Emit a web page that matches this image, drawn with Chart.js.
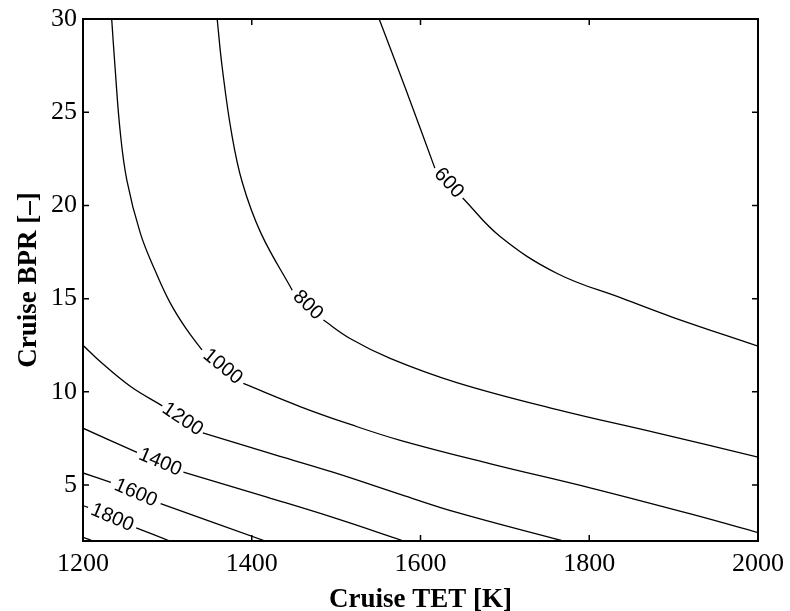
<!DOCTYPE html>
<html>
<head>
<meta charset="utf-8">
<script src="https://cdn.jsdelivr.net/npm/chart.js@4"></script>
<style>
  body { margin: 0; background: #fff; }
  canvas { display: block; }
</style>
</head>
<body>
<canvas id="myChart" width="790" height="611"></canvas>
<script>
// contour levels and their traced lines (null = gap where the level label sits)
const levels = [600, 800, 1000, 1200, 1400, 1600, 1800, 2000];

const tet600 = [1551, 1582, 1617, null, 1650, 1694, 1762, 1840, 1899, 2000];
const bpr600 = [30, 26.3, 22.0, null, 20.4, 18.35, 16.35, 15.0, 14.0, 12.45];

const tet800 = [1359, 1365, 1376, 1389, 1411, 1448, null, 1485, 1517, 1564, 1643, 1762, 1880, 2000];
const bpr800 = [30, 27.4, 23.9, 21.2, 18.5, 15.45, null, 13.85, 12.85, 11.8, 10.5, 9.05, 7.8, 6.5];

const tet1000 = [1234, 1238, 1244, 1252, 1268, 1286, 1303, 1322, 1341, null, 1390, 1458, 1517, 1576, 1682, 1801, 1920, 2000];
const bpr1000 = [30, 27.4, 24.0, 21.35, 18.5, 16.45, 14.8, 13.4, 12.25, null, 10.45, 9.2, 8.25, 7.4, 6.15, 4.85, 3.45, 2.45];

const tet1200 = [1200, 1221, 1256, 1294, null, 1342, 1418, 1497, 1576, 1643, 1769];
const bpr1200 = [12.5, 11.6, 10.3, 9.25, null, 7.8, 6.75, 5.68, 4.5, 3.53, 2];

const tet1400 = [1200, 1264, null, 1319, 1418, 1497, 1580];
const bpr1400 = [8.05, 6.75, null, 5.7, 4.35, 3.25, 2];

const tet1600 = [1200, 1233, null, 1292, 1416];
const bpr1600 = [5.65, 5.15, null, 4.0, 2];

const tet1800 = [1200, 1206, null, 1263, 1303];
const bpr1800 = [3.9, 3.8, null, 2.7, 2];

const tet2000 = [1200, 1212];
const bpr2000 = [2.2, 2];

const xTicks = [1200, 1400, 1600, 1800, 2000];
const yTicks = [5, 10, 15, 20, 25, 30];

const lines = [
  [tet600, bpr600], [tet800, bpr800], [tet1000, bpr1000], [tet1200, bpr1200],
  [tet1400, bpr1400], [tet1600, bpr1600], [tet1800, bpr1800], [tet2000, bpr2000]
];

const datasets = lines.map((l, i) => ({
  label: String(levels[i]),
  data: l[0].map((t, j) => ({ x: t, y: l[1][j] })),
  showLine: true,
  borderColor: "#000",
  borderWidth: 1.3,
  pointRadius: 0,
  tension: 0.4,
  spanGaps: false
}));

// level text written along the line, in the gap left for it
const contourLabels = {
  id: "contourLabels",
  afterDatasetsDraw(chart) {
    const ctx = chart.ctx;
    chart.data.datasets.forEach((ds, i) => {
      const g = ds.data.findIndex(p => p.y === null);
      if (g < 1) return;
      const pts = chart.getDatasetMeta(i).data;
      const a = pts[g - 1], b = pts[g + 1];
      const ang = Math.atan2(b.y - a.y, b.x - a.x);
      ctx.save();
      ctx.translate((a.x + b.x) / 2, (a.y + b.y) / 2);
      ctx.rotate(ang);
      ctx.font = '20px "Liberation Sans"';
      ctx.textAlign = "center";
      ctx.textBaseline = "middle";
      ctx.fillStyle = "#000";
      ctx.fillText(ds.label, 0, 0);
      ctx.restore();
    });
  }
};

// box around the plot with inward ticks on all four sides
const frame = {
  id: "frame",
  afterDraw(chart) {
    const { ctx, chartArea, scales } = chart;
    const { left, right, top, bottom } = chartArea;
    const tl = 6;
    ctx.save();
    ctx.strokeStyle = "#000";
    ctx.lineWidth = 1.5;
    ctx.beginPath();
    scales.x.ticks.forEach(t => {
      const px = scales.x.getPixelForValue(t.value);
      ctx.moveTo(px, bottom); ctx.lineTo(px, bottom - tl);
      ctx.moveTo(px, top); ctx.lineTo(px, top + tl);
    });
    scales.y.ticks.forEach(t => {
      const py = scales.y.getPixelForValue(t.value);
      ctx.moveTo(left, py); ctx.lineTo(left + tl, py);
      ctx.moveTo(right, py); ctx.lineTo(right - tl, py);
    });
    ctx.stroke();
    ctx.lineWidth = 2;
    ctx.strokeRect(left, top, right - left, bottom - top);
    ctx.restore();
  }
};

Chart.defaults.color = "#000";

let ctx = document.getElementById("myChart").getContext("2d");
let myChart = new Chart(ctx, {
  type: "scatter",
  data: { datasets: datasets },
  options: {
    responsive: false,
    animation: false,
    layout: { padding: { top: 19, right: 32, bottom: 0, left: 0 } },
    plugins: { legend: { display: false }, tooltip: { enabled: false } },
    scales: {
      x: {
        type: "linear",
        min: 1200,
        max: 2000,
        grid: { display: false, drawTicks: false },
        border: { display: false },
        afterBuildTicks: scale => { scale.ticks = xTicks.map(v => ({ value: v })); },
        afterFit: scale => { scale.height = 70; scale.paddingLeft = 0; scale.paddingRight = 0; },
        ticks: {
          autoSkip: false,
          maxRotation: 0,
          padding: 8,
          font: { family: "Liberation Serif", size: 26 },
          callback: v => String(v)
        },
        title: {
          display: true,
          text: "Cruise TET [K]",
          padding: { top: 0, bottom: 0 },
          font: { family: "Liberation Serif", size: 27, weight: "bold", lineHeight: 0.8 }
        }
      },
      y: {
        type: "linear",
        min: 2,
        max: 30,
        grid: { display: false, drawTicks: false },
        border: { display: false },
        afterBuildTicks: scale => { scale.ticks = yTicks.map(v => ({ value: v })); },
        afterFit: scale => { scale.width = 83; scale.paddingTop = 0; scale.paddingBottom = 0; },
        ticks: {
          autoSkip: false,
          padding: 6,
          font: { family: "Liberation Serif", size: 26 },
          callback: v => String(v)
        },
        title: {
          display: true,
          text: "Cruise BPR [–]",
          padding: { top: 18, bottom: 0 },
          font: { family: "Liberation Serif", size: 27, weight: "bold", lineHeight: 0.8 }
        }
      }
    }
  },
  plugins: [contourLabels, frame]
});
</script>
</body>
</html>
